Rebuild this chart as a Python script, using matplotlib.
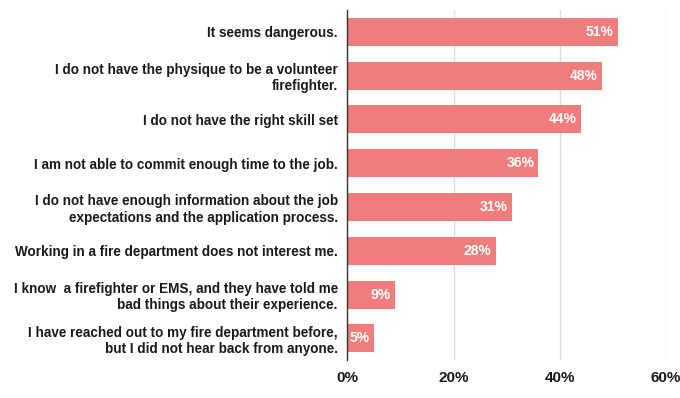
import matplotlib
matplotlib.use("Agg")
import matplotlib.pyplot as plt
from matplotlib.ticker import FuncFormatter

plt.rcParams['font.family'] = ['Liberation Sans', 'DejaVu Sans']

reasons = [
    "It seems dangerous.",
    "I do not have the physique to be a volunteer\nfirefighter.",
    "I do not have the right skill set",
    "I am not able to commit enough time to the job.",
    "I do not have enough information about the job\nexpectations and the application process.",
    "Working in a fire department does not interest me.",
    "I know  a firefighter or EMS, and they have told me\nbad things about their experience.",
    "I have reached out to my fire department before,\nbut I did not hear back from anyone.",
]
shares = [51, 48, 44, 36, 31, 28, 9, 5]
x_ticks = [0, 20, 40, 60]

bar_color = "#F07C7C"

fig = plt.figure(figsize=(6.8, 3.98), dpi=100)
ax = fig.add_axes([0.511, 0.095, 0.468, 0.880])

pos = list(range(len(reasons)))
ax.barh(pos, shares, height=0.64, color=bar_color, zorder=3)
for y, v in zip(pos, shares):
    ax.text(v - 0.8, y, f"{v}%", ha="right", va="center", color="white",
            fontsize=10, fontweight="bold", zorder=4)

ax.set_yticks(pos)
ax.set_yticklabels(reasons, fontsize=9.75, fontweight="bold", color="#1a1a1a",
                   linespacing=1.2)
ax.set_ylim(len(reasons) - 0.5, -0.5)
ax.set_xlim(0, 60)
ax.set_xticks(x_ticks)
ax.xaxis.set_major_formatter(FuncFormatter(lambda v, _: f"{v:.0f}%"))
for lbl in ax.get_xticklabels():
    lbl.set_fontweight("bold")
    lbl.set_fontsize(11)
    lbl.set_color("#1a1a1a")

ax.tick_params(axis="both", length=0)
ax.tick_params(axis="y", pad=7)
ax.tick_params(axis="x", pad=8)
ax.grid(axis="x", color="#DDDDDD", linewidth=1, zorder=0)
for side in ["top", "right", "bottom"]:
    ax.spines[side].set_visible(False)
ax.spines["left"].set_color("#333333")
ax.spines["left"].set_linewidth(1)
ax.spines["left"].set_zorder(5)

fig.savefig("out.png", dpi=100)
